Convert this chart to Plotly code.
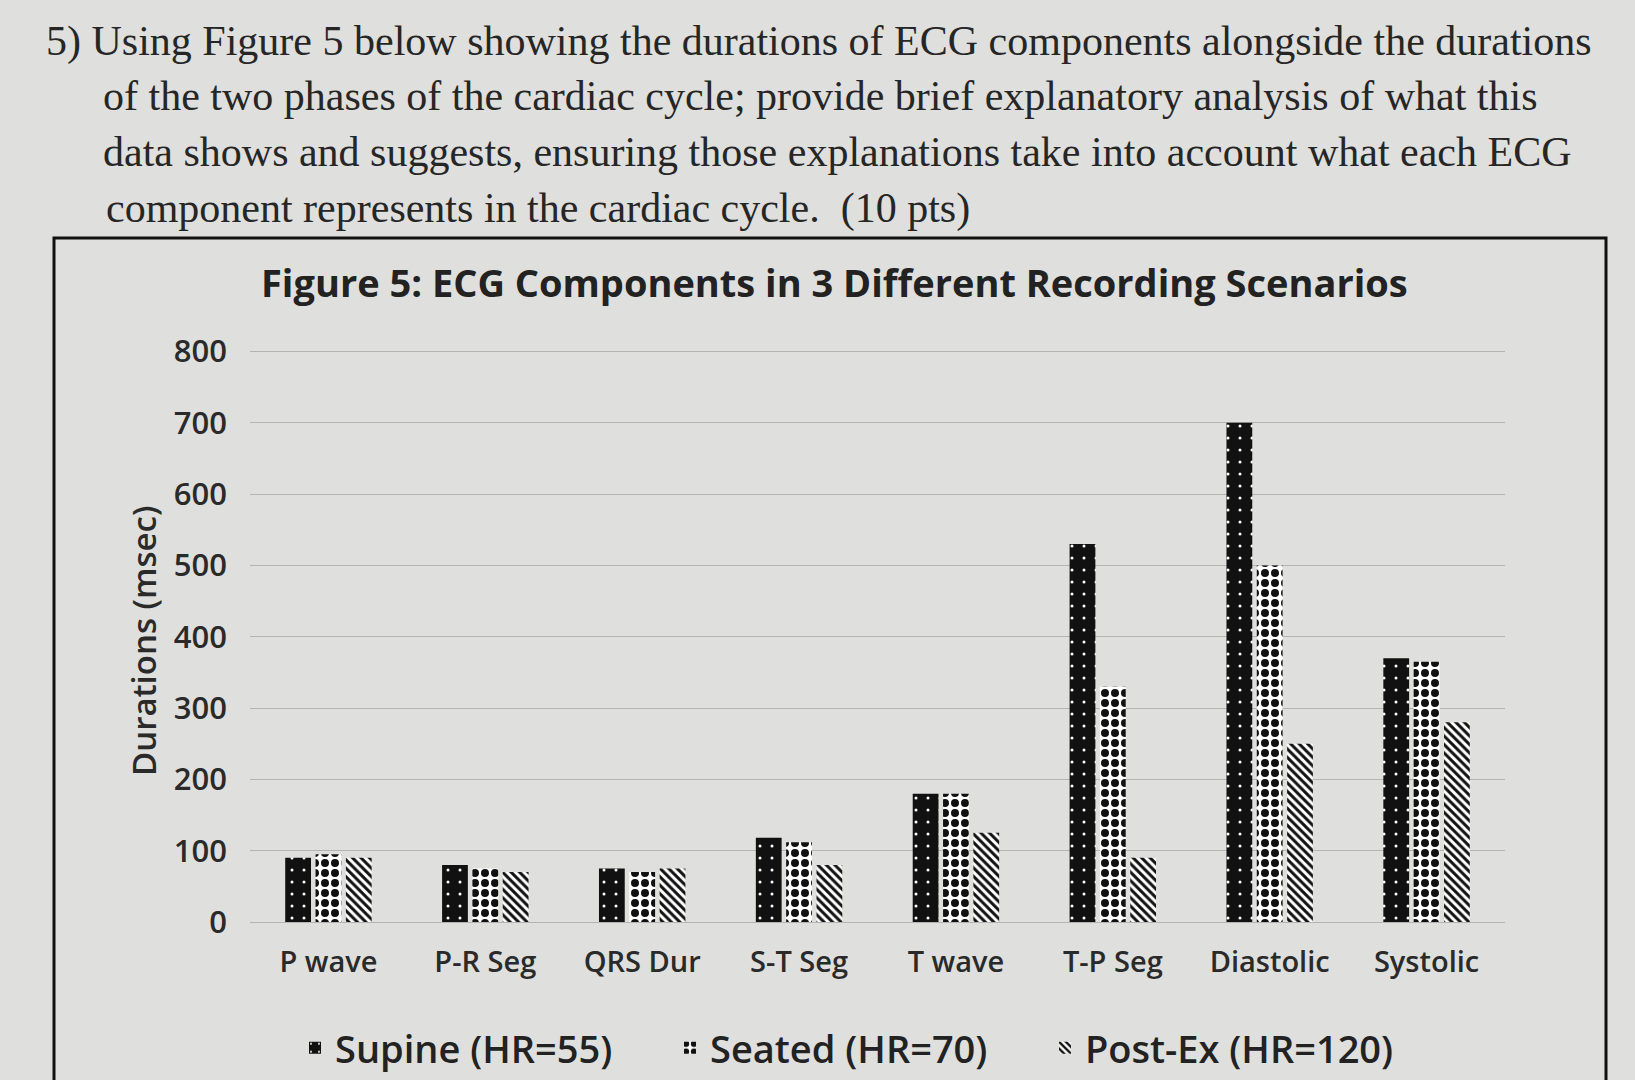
import plotly.graph_objects as go

# ---- data ----
categories = ["P wave", "P-R Seg", "QRS Dur", "S-T Seg", "T wave", "T-P Seg", "Diastolic", "Systolic"]
supine = [90, 80, 75, 118, 180, 530, 700, 370]
seated = [95, 75, 70, 112, 180, 330, 500, 365]
post_ex = [90, 70, 75, 80, 125, 90, 250, 280]
series_names = ["Supine (HR=55)", "Seated (HR=70)", "Post-Ex (HR=120)"]
y_ticks = [0, 100, 200, 300, 400, 500, 600, 700, 800]

question_lines = [
    "5) Using Figure 5 below showing the durations of ECG components alongside the durations",
    "of the two phases of the cardiac cycle; provide brief explanatory analysis of what this",
    "data shows and suggests, ensuring those explanations take into account what each ECG",
    "component represents in the cardiac cycle.  (10 pts)",
]
chart_title = "Figure 5: ECG Components in 3 Different Recording Scenarios"
y_title = "Durations (msec)"

W, H = 1635, 1080
BG = "#dfdfdd"
SANS = "Open Sans, Lato, sans-serif"
SERIF = "Liberation Serif, DejaVu Serif, serif"

def px(x):
    return x / W

def py(y):
    return 1 - y / H

fig = go.Figure()
fig.add_trace(go.Bar(
    x=categories, y=supine, name=series_names[0],
    marker=dict(color="#111111", line=dict(width=0),
                pattern=dict(shape=".", bgcolor="#111111", fgcolor="#ffffff",
                             size=12, solidity=0.05, fillmode="replace")),
))
fig.add_trace(go.Bar(
    x=categories, y=seated, name=series_names[1],
    marker=dict(color="#ffffff", line=dict(width=0),
                pattern=dict(shape=".", bgcolor="#ffffff", fgcolor="#111111",
                             size=10, solidity=0.5, fillmode="replace")),
))
fig.add_trace(go.Bar(
    x=categories, y=post_ex, name=series_names[2],
    marker=dict(color="#ffffff", line=dict(width=0),
                pattern=dict(shape="\\", bgcolor="#ffffff", fgcolor="#111111",
                             size=6, solidity=0.5, fillmode="replace")),
))

annotations = []
q_pos = [(44, 42), (101, 96), (101, 152), (104, 208)]
for line, (x, y) in zip(question_lines, q_pos):
    annotations.append(dict(
        text=line, x=px(x), y=py(y), xref="paper", yref="paper",
        xanchor="left", yanchor="middle", showarrow=False,
        font=dict(family=SERIF, size=42, color="#262626"),
    ))
annotations.append(dict(
    text=chart_title, x=px(834), y=py(282), xref="paper", yref="paper",
    xanchor="center", yanchor="middle", showarrow=False,
    font=dict(family=SANS, size=38, color="#222222", weight=700),
))
annotations.append(dict(
    text=y_title, x=px(143), y=py(641), xref="paper", yref="paper",
    xanchor="center", yanchor="middle", showarrow=False, textangle=-90,
    font=dict(family=SANS, size=33, color="#2a2a2a", weight=600),
))

fig.update_layout(
    width=W, height=H,
    margin=dict(l=0, r=0, t=0, b=0, autoexpand=False),
    paper_bgcolor=BG, plot_bgcolor=BG,
    barmode="group", bargap=0.42, bargroupgap=0.15,
    showlegend=True,
    legend=dict(orientation="h", x=px(295), y=py(1048), xanchor="left", yanchor="middle",
                font=dict(family=SANS, size=38, color="#222222", weight=600),
                bgcolor="rgba(0,0,0,0)", itemwidth=30,
                entrywidth=330, entrywidthmode="pixels"),
    annotations=annotations,
    shapes=[dict(type="rect", xref="paper", yref="paper",
                 x0=px(54), x1=px(1606), y0=py(1100), y1=py(238),
                 line=dict(color="#111111", width=3), fillcolor="rgba(0,0,0,0)", layer="below")],
    xaxis=dict(domain=[px(250), px(1505)], showgrid=False, showline=True,
               linecolor="#b4b4b4", linewidth=1, ticks="", ticklabelstandoff=14,
               tickfont=dict(family=SANS, size=29, color="#2a2a2a", weight=600)),
    yaxis=dict(domain=[py(922), py(348)], range=[0, 805], tickvals=y_ticks,
               showgrid=True, gridcolor="#b4b4b4", gridwidth=1, zeroline=False,
               showline=False, ticks="", ticklabelstandoff=22,
               tickfont=dict(family=SANS, size=31, color="#2a2a2a", weight=600)),
)

fig.write_html(
    "out.html",
    config={"displayModeBar": False},
    post_script="document.body.style.margin='0';document.body.style.background='%s';" % BG,
)
